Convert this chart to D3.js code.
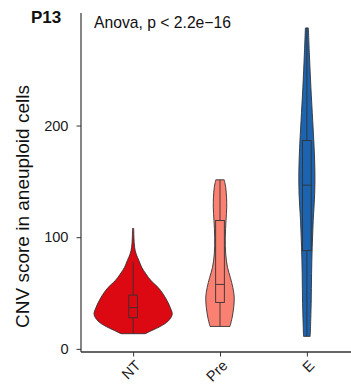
<!DOCTYPE html>
<html>
<head>
<meta charset="utf-8">
<script src="https://cdn.jsdelivr.net/npm/d3@7"></script>
<style>
  body { margin: 0; background: #fff; }
  svg { display: block; font-family: "Liberation Sans", Arial, sans-serif; }
</style>
</head>
<body>
<svg id="chart" width="351" height="384"></svg>
<script>
// groups and their colours
const groups = ["NT", "Pre", "E"];
const fills = ["#DC0812", "#FA8072", "#1C63B0"];

// violin outlines: [value, relative density]
const ntDensity = [[13.6,0.31],[17,0.51],[20,0.69],[25,0.9],[31,1],[37,0.95],[43,0.87],[49,0.77],[55,0.64],[61,0.46],[67,0.33],[73,0.22],[79,0.15],[85,0.077],[91,0.038],[100,0.02],[107.8,0.015]];
const preDensity = [[20.1,0.256],[28.5,0.313],[37.4,0.351],[46.4,0.364],[55,0.328],[64,0.264],[73,0.192],[85,0.146],[100,0.136],[115,0.154],[126.9,0.172],[135.8,0.167],[144.8,0.146],[151.4,0.108]];
const eDensity = [[11.2,0.085],[40.4,0.11],[67.3,0.12],[91,0.136],[115,0.162],[138.9,0.2],[159.7,0.205],[180.6,0.185],[204.5,0.149],[234,0.103],[264,0.064],[287.4,0.038]];
const densities = [ntDensity, preDensity, eDensity];

// box plot stats: [lower whisker, q1, median, q3, upper whisker]
const ntBox = [13.6, 27.9, 36.9, 48.2, 78];
const preBox = [20.1, 41.6, 57.7, 115, 151.4];
const eBox = [11.2, 88, 146.6, 186.6, 287.4];
const boxes = [ntBox, preBox, eBox];

const yTicks = [0, 100, 200];
const yDomain = [-2.8, 300.8];

const svg = d3.select("#chart");
const mLeft = 81, mTop = 13, mBottom = 352, mRight = 359;

let x = d3.scalePoint().domain(groups).range([mLeft, mRight]).padding(0.6);
let y = d3.scaleLinear().domain(yDomain).range([mBottom, mTop]);
let step = x.step();
let w = d3.scaleLinear().domain([0, 1]).range([0, step * 0.45]);
let boxW = step * 0.1;

let plot = svg.append("g");

groups.forEach(function(g, i){
  let cx = x(g);
  let dens = densities[i];
  // violin: left and right edges around the group centre
  let vArea = d3.area()
    .curve(d3.curveCatmullRom)
    .y(d => y(d[0]))
    .x0(d => cx - w(d[1]))
    .x1(d => cx + w(d[1]));
  plot.append("path")
    .attr("d", vArea(dens))
    .attr("fill", fills[i])
    .attr("stroke", "#333")
    .attr("stroke-width", 0.9);

  let b = boxes[i];
  // whiskers
  plot.append("line")
    .attr("x1", cx).attr("x2", cx)
    .attr("y1", y(b[3])).attr("y2", y(b[4]))
    .attr("stroke", "#333").attr("stroke-width", 0.9);
  plot.append("line")
    .attr("x1", cx).attr("x2", cx)
    .attr("y1", y(b[0])).attr("y2", y(b[1]))
    .attr("stroke", "#333").attr("stroke-width", 0.9);
  // box
  plot.append("rect")
    .attr("x", cx - boxW / 2)
    .attr("y", y(b[3]))
    .attr("width", boxW)
    .attr("height", y(b[1]) - y(b[3]))
    .attr("fill", fills[i])
    .attr("stroke", "#333").attr("stroke-width", 0.9);
  plot.append("line")
    .attr("x1", cx - boxW / 2).attr("x2", cx + boxW / 2)
    .attr("y1", y(b[2])).attr("y2", y(b[2]))
    .attr("stroke", "#333").attr("stroke-width", 0.9);
});

// axes
let yAxis = d3.axisLeft(y).tickValues(yTicks).tickSize(4.5).tickPadding(8);
let gy = svg.append("g").attr("transform", `translate(${mLeft},0)`).call(yAxis);
gy.select(".domain").attr("d", `M0,${mTop}V${mBottom}`).attr("stroke", "#222").attr("stroke-width", 1.1);
gy.selectAll(".tick line").attr("stroke", "#333");
gy.selectAll(".tick text").attr("font-size", 14.6).attr("fill", "#1a1a1a").attr("font-family", "Liberation Sans, Arial, sans-serif");

let xAxis = d3.axisBottom(x).tickSize(4.5).tickFormat("");
let gx = svg.append("g").attr("transform", `translate(0,${mBottom})`).call(xAxis);
gx.select(".domain").attr("d", `M${mLeft},0H351`).attr("stroke", "#333").attr("stroke-width", 1.3);
gx.selectAll(".tick line").attr("stroke", "#333");

groups.forEach(function(g){
  svg.append("text")
    .attr("transform", `translate(${x(g) + 1},${mBottom + 7}) rotate(-45)`)
    .attr("text-anchor", "end")
    .attr("dy", "0.72em")
    .attr("font-size", 14.6)
    .attr("fill", "#1a1a1a")
    .text(g);
});

// titles
svg.append("text")
  .attr("transform", "translate(29,206.5) rotate(-90)")
  .attr("text-anchor", "middle")
  .attr("font-size", 19)
  .attr("fill", "#111")
  .text("CNV score in aneuploid cells");

svg.append("text")
  .attr("x", 31).attr("y", 22.5)
  .attr("font-size", 17)
  .attr("font-weight", "bold")
  .attr("fill", "#111")
  .text("P13");

svg.append("text")
  .attr("x", 94).attr("y", 27.5)
  .attr("font-size", 15.7)
  .attr("fill", "#111")
  .text("Anova, p < 2.2e\u221216");
</script>
</body>
</html>
